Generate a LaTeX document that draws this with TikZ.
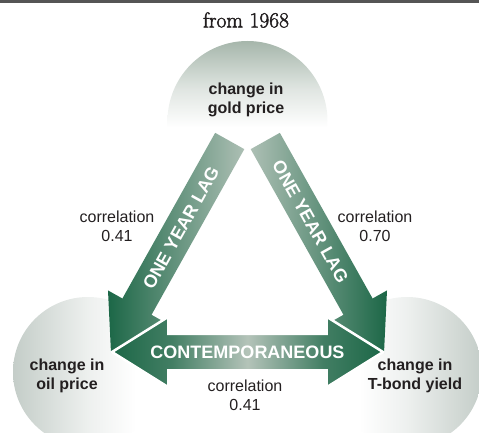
\documentclass[tikz,border=0pt]{standalone}
\usepackage{fontspec}
\setsansfont{Liberation Sans}
\newfontfamily\headfont[FakeBold=2]{Latin Modern Roman}
\usetikzlibrary{shapes.arrows,calc}

\definecolor{rulegray}{HTML}{555555}
\definecolor{textdark}{HTML}{231F20}
\definecolor{arrowlight}{HTML}{ADBFB4}
\definecolor{arrowdark}{HTML}{1C6747}
\definecolor{arrowmid}{HTML}{B4C3B9}
\definecolor{ballgray}{HTML}{C4CDC8}
\definecolor{topgray}{HTML}{A6B6AB}

% soft sphere shadings: grey on the far side, white towards the middle
\pgfdeclarehorizontalshading{oilball}{100bp}{color(0bp)=(ballgray); color(25bp)=(ballgray); color(50bp)=(ballgray!30!white); color(66bp)=(white); color(100bp)=(white)}
\pgfdeclarehorizontalshading{bondball}{100bp}{color(0bp)=(white); color(34bp)=(white); color(50bp)=(ballgray!30!white); color(75bp)=(ballgray); color(100bp)=(ballgray)}
\pgfdeclareverticalshading{goldball}{100bp}{color(0bp)=(white); color(48bp)=(white); color(60bp)=(topgray!35!white); color(75bp)=(topgray); color(100bp)=(topgray)}
% contemporaneous arrow: dark green at both heads, pale in the middle
\pgfdeclarehorizontalshading{contempshade}{100bp}{color(0bp)=(arrowdark); color(25bp)=(arrowdark); color(36bp)=(arrowdark!75!arrowmid); color(50bp)=(arrowmid); color(64bp)=(arrowdark!75!arrowmid); color(75bp)=(arrowdark); color(100bp)=(arrowdark)}

\begin{document}
\begin{tikzpicture}[x=1pt, y=-1pt,
  every node/.style={inner sep=0pt, outer sep=0pt},
  ball/.style={circle, shade, draw=none, minimum size=#1},
  lag/.style={single arrow, single arrow tip angle=64, inner xsep=0pt, inner ysep=16.5pt,
    single arrow head extend=16.5pt, minimum height=243pt},
  armtext/.style={text=white, font=\sffamily\bfseries\fontsize{18}{18}\selectfont},
  nodetext/.style={align=center, text=textdark,
    font=\sffamily\bfseries\fontsize{16}{18.5}\selectfont},
  corr/.style={align=center, text=textdark,
    font=\sffamily\fontsize{16}{19}\selectfont},
]
\useasboundingbox (0,0) rectangle (479,433);

% heading
\draw[rulegray, line width=2.5pt] (0,1.5) -- (479,1.5);
\node[text=textdark, font=\headfont\fontsize{21.5}{21.5}\selectfont] (title) at (246,20) {from 1968};

% spheres
\node[ball=160pt, shading=goldball] (goldball) at (247.5,121) {};
\node[ball=150pt, shading=oilball] (oilball) at (88,372) {};
\node[ball=150pt, shading=bondball] (bondball) at (407,372) {};

% one-year-lag arrows
\node[lag, rotate=60.75, shape border rotate=180, anchor=tip,
  left color=arrowdark, right color=arrowlight] (lagL) at (111,353) {};
\node[lag, rotate=-60.75, anchor=tip,
  left color=arrowlight, right color=arrowdark] (lagR) at (384,353) {};
\node[armtext, rotate=60.75] (lagLtext) at ($(lagL.tail)!0.41!(lagL.tip)$) {ONE YEAR LAG};
\node[armtext, rotate=-60.75] (lagRtext) at ($(lagR.tail)!0.38!(lagR.tip)$) {ONE YEAR LAG};

% contemporaneous arrow
\node[double arrow, double arrow tip angle=64, double arrow head extend=17pt,
  text height=13pt, text depth=0pt, inner xsep=0pt, inner ysep=10.5pt,
  minimum height=271pt, shade, shading=contempshade,
  draw=white, line width=2.5pt, armtext] (contemp) at (247.5,352) {CONTEMPORANEOUS};

% labels
\node[nodetext] (gold) at (246,100) {change in\\gold price};
\node[nodetext] (oil) at (67,376) {change in\\oil price};
\node[nodetext] (tbond) at (415,376) {change in\\T-bond yield};

\node[corr] (corrL) at (117,226) {correlation\\0.41};
\node[corr] (corrR) at (375,226) {correlation\\0.70};
\node[corr] (corrB) at (245,395) {correlation\\0.41};
\end{tikzpicture}
\end{document}
